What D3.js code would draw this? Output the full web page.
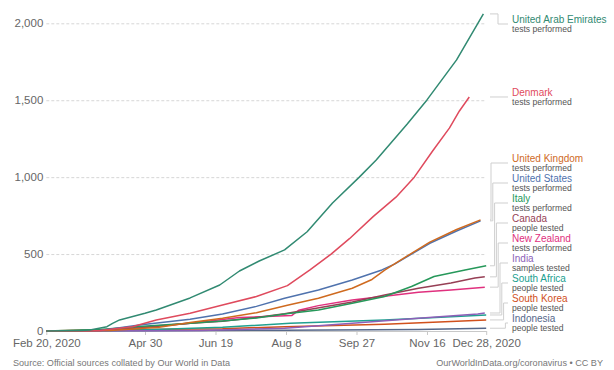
<!DOCTYPE html>
<html>
<head>
<meta charset="utf-8">
<script src="https://cdn.jsdelivr.net/npm/d3@7"></script>
<style>
  html, body { margin: 0; padding: 0; background: #fff; }
  svg { display: block; font-family: "Liberation Sans", Arial, sans-serif; }
</style>
</head>
<body>
<div id="chart"></div>
<script>
// cumulative tests per 1,000 people
const uae = [["2020-02-20",0],["2020-03-15",3],["2020-03-22",7],["2020-04-03",28],["2020-04-07",50],["2020-04-12",72],["2020-04-30",115],["2020-05-08",137],["2020-06-01",215],["2020-06-22",299],["2020-07-06",390],["2020-07-20",455],["2020-08-07",527],["2020-08-23",645],["2020-09-10",832],["2020-09-29",1000],["2020-10-11",1112],["2020-11-02",1346],["2020-11-16",1502],["2020-12-07",1762],["2020-12-26",2061]];
const denmark = [["2020-02-20",0],["2020-03-29",4],["2020-04-21",28],["2020-05-08",72],["2020-06-01",115],["2020-06-24",169],["2020-07-18",224],["2020-08-09",295],["2020-08-25",397],["2020-09-09",500],["2020-09-22",600],["2020-10-09",745],["2020-10-25",870],["2020-11-07",1000],["2020-11-20",1170],["2020-12-02",1320],["2020-12-09",1430],["2020-12-16",1521]];
const uk = [["2020-02-20",0],["2020-04-05",3],["2020-05-10",25],["2020-06-01",55],["2020-06-24",83],["2020-07-18",119],["2020-08-09",167],["2020-08-31",213],["2020-09-24",278],["2020-10-08",335],["2020-10-17",395],["2020-10-24",437],["2020-11-05",505],["2020-11-18",578],["2020-12-07",660],["2020-12-24",722]];
const us = [["2020-02-20",0],["2020-03-29",3],["2020-04-26",39],["2020-06-01",76],["2020-06-24",111],["2020-07-18",160],["2020-08-07",213],["2020-08-31",267],["2020-09-24",332],["2020-10-15",397],["2020-10-24",435],["2020-11-05",500],["2020-11-18",570],["2020-12-07",650],["2020-12-24",716]];
const italy = [["2020-02-20",0],["2020-03-29",10],["2020-04-26",30],["2020-06-01",50],["2020-06-24",65],["2020-07-18",85],["2020-08-07",110],["2020-08-31",137],["2020-09-24",180],["2020-10-17",224],["2020-11-05",289],["2020-11-21",354],["2020-12-13",397],["2020-12-28",424]];
const canada = [["2020-02-20",0],["2020-03-29",5],["2020-04-26",20],["2020-06-01",50],["2020-06-24",63],["2020-07-18",88],["2020-08-07",112],["2020-09-24",189],["2020-10-17",234],["2020-11-10",278],["2020-12-03",312],["2020-12-20",345],["2020-12-27",352]];
const newZealand = [["2020-02-20",0],["2020-03-29",3],["2020-04-26",25],["2020-06-01",50],["2020-07-06",88],["2020-08-12",100],["2020-08-17",135],["2020-08-31",165],["2020-09-24",202],["2020-10-17",226],["2020-11-10",252],["2020-12-03",267],["2020-12-27",285]];
const india = [["2020-02-20",0],["2020-04-15",1],["2020-06-08",4],["2020-08-07",18],["2020-09-24",50],["2020-11-10",83],["2020-12-22",111],["2020-12-27",117]];
const southAfrica = [["2020-02-20",0],["2020-04-01",2],["2020-04-26",6],["2020-06-24",24],["2020-08-11",50],["2020-10-17",72],["2020-12-03",93],["2020-12-28",104]];
const southKorea = [["2020-02-20",0],["2020-03-15",5],["2020-04-26",10],["2020-06-24",15],["2020-08-07",28],["2020-10-17",44],["2020-12-03",61],["2020-12-28",72]];
const indonesia = [["2020-02-20",0],["2020-05-01",1],["2020-08-07",5],["2020-11-10",10],["2020-12-28",18]];

const countries = ["United Arab Emirates","Denmark","United Kingdom","United States","Italy","Canada","New Zealand","India","South Africa","South Korea","Indonesia"];
const units = ["tests performed","tests performed","tests performed","tests performed","tests performed","people tested","tests performed","samples tested","people tested","people tested","people tested"];
const seriesData = [uae, denmark, uk, us, italy, canada, newZealand, india, southAfrica, southKorea, indonesia];
const colors = ["#318a72","#df4a5d","#cf6a1f","#4f72ad","#26985a","#963f55","#e0307e","#8d5fb8","#20a090","#d0501c","#56688a"];

const xTicks = ["2020-02-20","2020-04-30","2020-06-19","2020-08-08","2020-09-27","2020-11-16","2020-12-28"];
const yTicks = [0, 500, 1000, 1500, 2000];

const width = 614, height = 370;
const parse = d3.timeParse("%Y-%m-%d");

const svg = d3.select("#chart").append("svg")
    .attr("width", width)
    .attr("height", height);

const x = d3.scaleTime()
    .domain([parse("2020-02-20"), parse("2020-12-28")])
    .range([46.3, 486.2]);
const y = d3.scaleLinear()
    .domain([0, 2000])
    .range([331, 23.3]);

// y grid + labels
const yAxis = svg.append("g")
    .attr("transform", `translate(${x.range()[0]},0)`)
    .call(d3.axisLeft(y).tickValues(yTicks).tickFormat(d3.format(",")).tickSize(-(x.range()[1] - x.range()[0])).tickPadding(3));
yAxis.select(".domain").remove();
yAxis.selectAll(".tick line")
    .attr("stroke", "#d6d6d6")
    .attr("stroke-dasharray", "3,2")
    .attr("stroke-opacity", d => d === 0 ? 0 : 1);
yAxis.selectAll("text")
    .attr("fill", "#666")
    .style("font-size", "11.5px");

// x axis
const fmtShort = d3.timeFormat("%b %-d"), fmtLong = d3.timeFormat("%b %-d, %Y");
const xAxis = svg.append("g")
    .attr("transform", `translate(0,${y(0)})`)
    .call(d3.axisBottom(x).tickValues(xTicks.map(parse))
        .tickFormat((d, i) => (i === 0 || i === xTicks.length - 1) ? fmtLong(d) : fmtShort(d))
        .tickSize(4).tickPadding(4).tickSizeOuter(0));
xAxis.select(".domain").attr("stroke", "#c8c8c8");
xAxis.selectAll(".tick line").attr("stroke", "#c8c8c8");
xAxis.selectAll("text")
    .attr("fill", "#666")
    .style("font-size", "11.5px");

// lines
const line = d3.line()
    .x(d => x(parse(d[0])))
    .y(d => y(d[1]));

svg.append("g")
    .selectAll("path")
    .data(seriesData.map((s, i) => ({ values: s, color: colors[i] })).reverse())
    .join("path")
    .attr("fill", "none")
    .attr("stroke", d => d.color)
    .attr("stroke-width", 1.5)
    .attr("stroke-linejoin", "round")
    .attr("d", d => line(d.values));

// legend placement: keep labels 20px apart, inside the plot height
const items = countries.map((name, i) => {
    const last = seriesData[i][seriesData[i].length - 1];
    return { name, unit: units[i], color: colors[i], endY: y(last[1]) };
}).sort((a, b) => a.endY - b.endY);

const gap = 20, labelTop = 24, labelBottom = 323;
items.forEach((d, i) => {
    d.c = Math.max(d.endY, labelTop);
    if (i > 0) d.c = Math.max(d.c, items[i - 1].c + gap);
});
for (let i = items.length - 1; i >= 0; i--) {
    const lim = i === items.length - 1 ? labelBottom : items[i + 1].c - gap;
    items[i].c = Math.min(items[i].c, lim);
}

const labelX = 512, lineStart = 490;
const stack = items.filter(d => d.endY > 150);
items.forEach(d => {
    const k = stack.indexOf(d);
    d.stepX = k < 0 ? 498 : 491 + k * 1.8;
});

const legend = svg.append("g");
legend.selectAll("path")
    .data(items)
    .join("path")
    .attr("fill", "none")
    .attr("stroke", "#cfcfcf")
    .attr("stroke-width", 1)
    .attr("d", d => `M${lineStart},${d.endY}H${d.stepX}V${d.c}H${labelX - 4}`);

const lab = legend.selectAll("g.lab")
    .data(items)
    .join("g")
    .attr("class", "lab");
lab.append("text")
    .attr("x", labelX)
    .attr("y", d => d.c - 1.3)
    .attr("fill", d => d.color)
    .style("font-size", "10px")
    .text(d => d.name);
lab.append("text")
    .attr("x", labelX)
    .attr("y", d => d.c + 7.8)
    .attr("fill", "#555")
    .style("font-size", "8.6px")
    .text(d => d.unit);

// footer
svg.append("text")
    .attr("x", 13)
    .attr("y", 366)
    .attr("fill", "#777")
    .style("font-size", "9.1px")
    .text("Source: Official sources collated by Our World in Data");
svg.append("text")
    .attr("x", 603)
    .attr("y", 366)
    .attr("text-anchor", "end")
    .attr("fill", "#777")
    .style("font-size", "9.1px")
    .text("OurWorldInData.org/coronavirus • CC BY");
</script>
</body>
</html>
